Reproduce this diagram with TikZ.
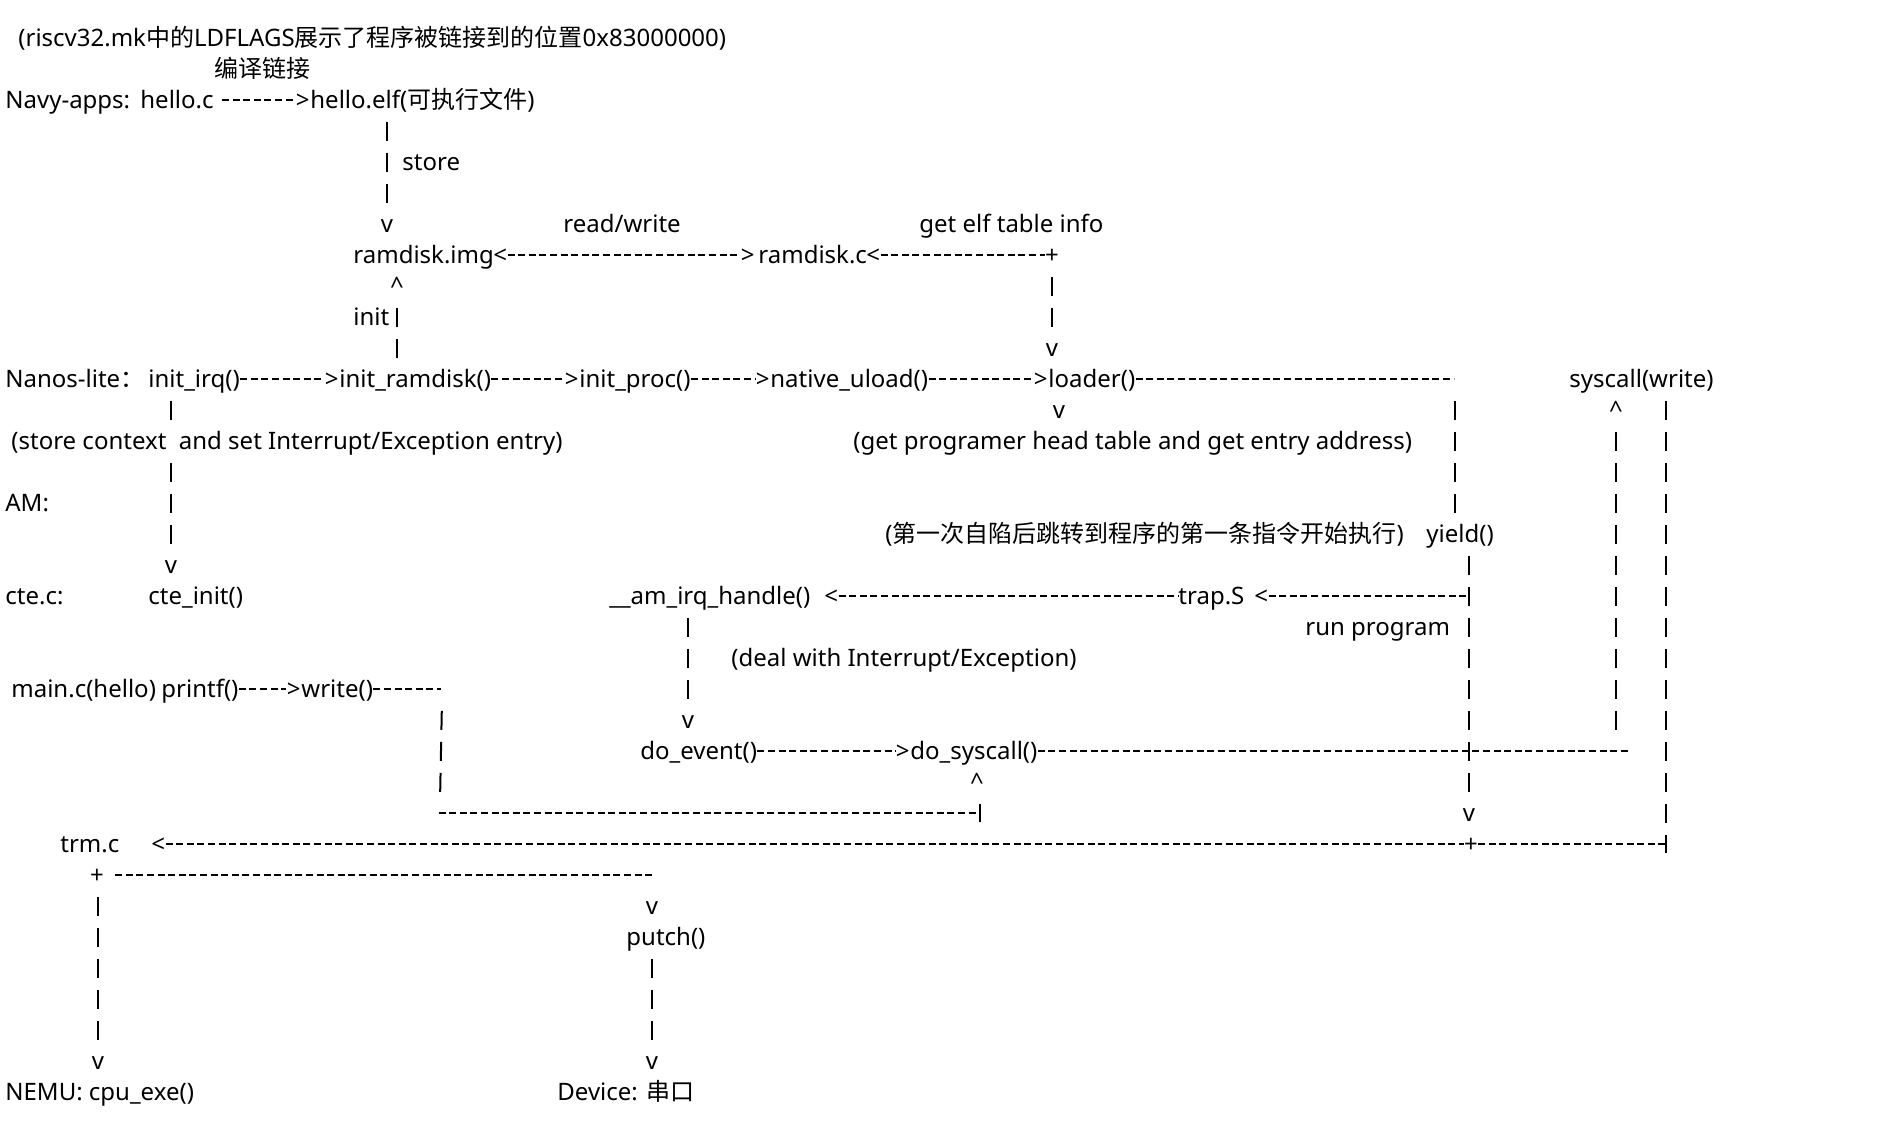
\documentclass[tikz,border=0pt]{standalone}
\usepackage{fontspec}
\setmainfont{Noto Sans}
\newfontfamily\zhfont{Noto Sans CJK SC}

\begin{document}
\begin{tikzpicture}[x=0.5pt, y=-15.5pt, font=\fontsize{12}{14}\selectfont,
  lbl/.style={inner sep=0pt, text height=10pt, text depth=1pt, anchor=base west},
  gl/.style={lbl, anchor=base},
  hy/.style={line width=1pt, dash pattern=on 3.5pt off 1.8pt},
  pipe/.style={line width=1pt, dash pattern=on 9.5pt off 6pt, dash phase=10pt}]

% Canvas: 1898 x 1127 px, x in px, y in text lines (31 px each).
%   line k has its baseline at y = k + 0.5
\useasboundingbox (0,0) rectangle (1898,36.355);

% ── Text of the chart ─────────────────────────────────────────────────────────
\node[lbl] (ldnote) at (18,1.5)
  {(riscv32.mk{\zhfont 中的}LDFLAGS{\zhfont 展示了程序被链接到的位置}0x83000000)};
\node[lbl] (cmp)     at (214,2.5)  {\zhfont 编译链接};
\node[lbl] (navy)    at (5,3.5)    {Navy-apps:};
\node[lbl] (helloc)  at (140,3.5)  {hello.c};
\node[lbl] (elf)     at (310,3.5)  {hello.elf({\zhfont 可执行文件})};
\node[lbl] (store)   at (402,5.5)  {store};
\node[lbl] (rw)      at (563,7.5)  {read/write};
\node[lbl] (elfinfo) at (919,7.5)  {get elf table info};
\node[lbl] (img)     at (353,8.5)  {ramdisk.img};
\node[lbl] (rdc)     at (758,8.5)  {ramdisk.c};
\node[lbl] (init)    at (353,10.5) {init};

% Nanos-lite
\node[lbl] (nanos)   at (5,12.5)    {Nanos-lite{\zhfont ：}};
\node[lbl] (irq)     at (148,12.5)  {init\_irq()};
\node[lbl] (rd)      at (339,12.5)  {init\_ramdisk()};
\node[lbl] (proc)    at (579,12.5)  {init\_proc()};
\node[lbl] (ul)      at (770,12.5)  {native\_uload()};
\node[lbl] (loader)  at (1048,12.5) {loader()};
\node[lbl] (syscall) at (1569,12.5) {syscall(write)};
\node[lbl] (storectx) at (11,14.5)
  {(store context~~and set Interrupt/Exception entry)};
\node[lbl] (gethead) at (853,14.5)
  {(get programer head table and get entry address)};

% AM
\node[lbl] (am)       at (5,16.5)    {AM:};
\node[lbl] (trapnote) at (885,17.5)
  {({\zhfont 第一次自陷后跳转到程序的第一条指令开始执行})};
\node[lbl] (yield)    at (1426,17.5) {yield()};
\node[lbl] (cte)      at (5,19.5)    {cte.c:};
\node[lbl] (cteinit)  at (148,19.5)  {cte\_init()};
\node[lbl] (irqh)     at (609,19.5)  {\_\_am\_irq\_handle()};
\node[lbl] (trap)     at (1178,19.5) {trap.S};
\node[lbl] (run)      at (1305,20.5) {run program};
\node[lbl] (deal)     at (731,21.5)  {(deal with Interrupt/Exception)};
\node[lbl] (mainc)    at (11,22.5)   {main.c(hello)};
\node[lbl] (printf)   at (161,22.5)  {printf()};
\node[lbl] (write)    at (301,22.5)  {write()};
\node[lbl] (doev)     at (640,24.5)  {do\_event()};
\node[lbl] (sysc)     at (910,24.5)  {do\_syscall()};
\node[lbl] (trm)      at (60,27.5)   {trm.c};
\node[lbl] (putch)    at (626,30.5)  {putch()};

% NEMU / device
\node[lbl] (nemu)   at (5,35.5)   {NEMU: cpu\_exe()};
\node[lbl] (device) at (557,35.5) {Device: {\zhfont 串口}};

% ── Arrow heads and corners (typed glyphs) ────────────────────────────────────
\foreach \n/\x/\r in {gt1/310/3, gt2/755/8, gt3/339/12, gt4/579/12, gt5/770/12,
                      gt6/1048/12, gt7/301/22, gt8/910/24}
  \node[lbl, anchor=base east] (\n) at (\x,\r+.5) {>};

\foreach \n/\x/\r in {lt1/493/8, lt2/866/8, lt3/824/19, lt4/1254/19, lt5/151/27}
  \node[lbl] (\n) at (\x,\r+.5) {<};

\foreach \n/\x/\r/\g in {v1/387/7/v, up1/397/9/\textasciicircum, plus1/1052/8/+,
                         v2/1052/11/v, v3/1059/13/v, up2/1616/13/\textasciicircum,
                         v5/171/18/v, v6/688/23/v, up3/977/25/\textasciicircum,
                         v4/1469/26/v, plus2/1471/27/+, plus3/97/28/+,
                         v7/652/29/v, v8/652/34/v, v9/98/34/v}
  \node[gl] (\n) at (\x,\r+.5) {\g};

% bends where a run turns without a glyph
\node[gl] (k1) at (1455,12.5) {};
\node[gl] (k2) at (1632,24.5) {};
\node[gl] (k7) at (442,22.5) {};
\node[gl] (k8) at (440,26.5) {};
\coordinate (k4) at (1666,27.53);
\coordinate (k9) at (980,26.53);

% ── Runs of hyphens ───────────────────────────────────────────────────────────
\draw[hy] ([xshift=4pt]helloc.east) -- (gt1.west);
\draw[hy] (lt1.east) -- (gt2.west);
\draw[hy] (lt2.east) -- (plus1.west);
\draw[hy] (irq.east) -- (gt3.west);
\draw[hy] (rd.east) -- (gt4.west);
\draw[hy] (proc.east) -- (gt5.west);
\draw[hy] (ul.east) -- (gt6.west);
\draw[hy] (loader.east) -- (k1.west);
\draw[hy] (lt3.east) -- (trap.west);
\draw[hy] (lt4.east) -- (lt4.east -| v4);
\draw[hy] (printf.east) -- (gt7.west);
\draw[hy] (write.east) -- (k7.west);
\draw[hy] (doev.east) -- (gt8.west);
\draw[hy] (sysc.east) -- (k2.west);
\draw[hy] (k8.west) -- (k8.west -| k9);
\draw[hy] (lt5.east) -- (plus2.west);
\draw[hy] (plus2.east) -- (plus2.east -| k4);
\draw[hy] ([xshift=5.5pt]plus3.east) -- (plus3.east -| v7);

% ── Columns of bars ───────────────────────────────────────────────────────────
\draw[pipe] (elf.south -| v1) -- (v1.north);
\draw[pipe] (up1.south) -- (rd.north -| up1);
\draw[pipe] (plus1.south) -- (v2.north);
\draw[pipe] (irq.south -| v5) -- (storectx.north -| v5);
\draw[pipe] (storectx.south -| v5) -- (v5.north);
\draw[pipe] (k1.south) -- (yield.north -| k1);
\draw[pipe] (yield.south -| v4) -- (v4.north);
\draw[pipe] (up2.south) -- (k2.north -| up2);
\draw[pipe] (syscall.south -| k4) -- (k4);
\draw[pipe] (irqh.south -| v6) -- (v6.north);
\draw[pipe] (k7.south) -- (k8.north);
\draw[pipe] (up3.south -| k9) -- (k9);
\draw[pipe] (plus3.south -| v9) -- (v9.north);
\draw[pipe] (putch.south -| v8) -- (v8.north);

\end{tikzpicture}
\end{document}
